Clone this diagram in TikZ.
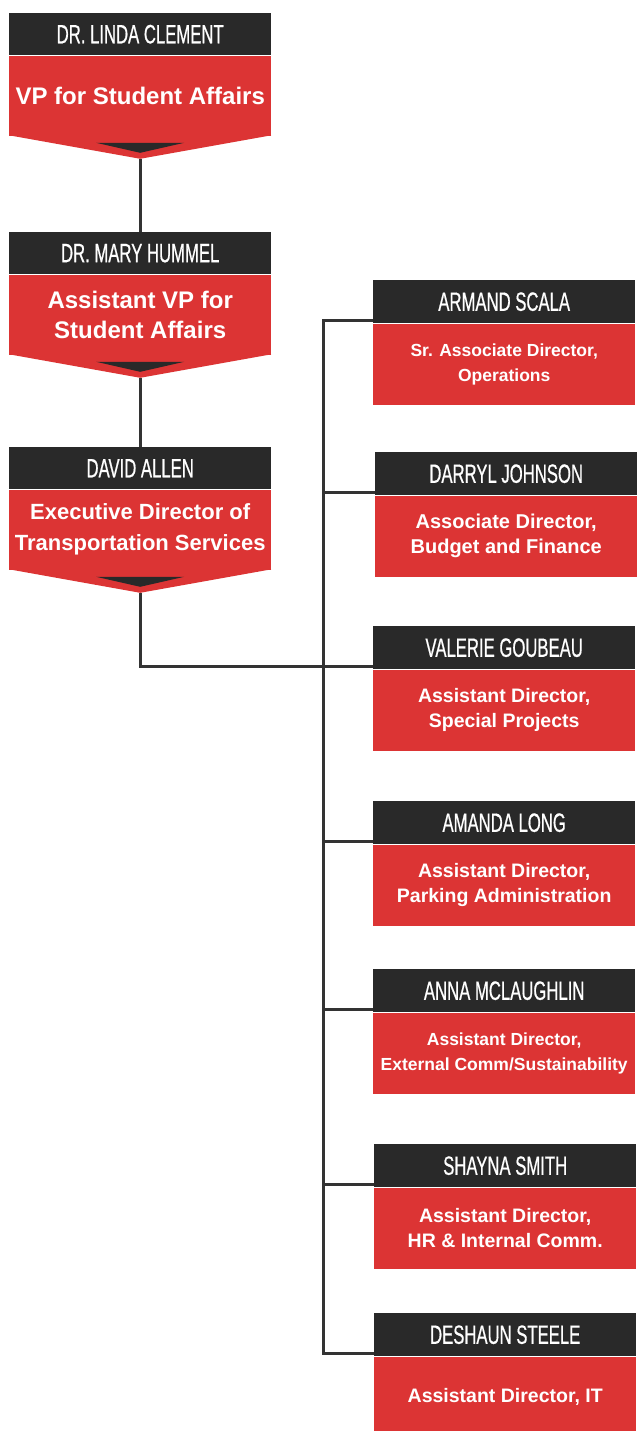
\documentclass[tikz,border=0pt]{standalone}
\usepackage{fontspec}
\setmainfont{Liberation Sans}
\newfontfamily\hdrfont[FakeStretch=0.63,FakeBold=0.6]{Liberation Sans}
\usetikzlibrary{calc}
\definecolor{bred}{HTML}{DC3434}
\definecolor{bdark}{HTML}{292929}
\definecolor{bline}{HTML}{333333}
\tikzset{
  hdr/.style={fill=bdark, text=white, inner sep=0pt, minimum width=262pt,
    font=\hdrfont\fontsize{26.5}{26.5}\selectfont, anchor=north west},
  body/.style={fill=bred, text=white, inner sep=0pt, minimum width=262pt,
    align=center, anchor=north west},
  conn/.style={draw=bline, line width=3pt}
}
% left box: name, top y, header, font size, baselineskip, body
\newcommand\lbox[6]{%
  \node[hdr, minimum height=42pt] (#1h) at (9,#2) {#3};
  \node[body, minimum height=80pt, font=\bfseries\fontsize{#4}{#5}\selectfont] (#1b) at (#1h.south west) {#6};
  \fill[bred] ([yshift=0.5pt]#1b.south west) -- ([yshift=0.5pt]#1b.south east) -- ($(#1b.south)+(0,23)$) coordinate (#1p) -- cycle;
  \fill[bdark] ($(#1b.south)+(-44,7)$) -- ($(#1b.south)+(44,7)$) -- ($(#1b.south)+(0,17)$) -- cycle;
}
% right box: name, x, y, header, font size, body
\newcommand\rbox[6]{%
  \node[hdr, minimum height=43pt] (#1h) at (#2,#3) {#4};
  \node[body, minimum height=81pt, font=\bfseries\fontsize{#5}{25}\selectfont] (#1b) at (#1h.south west) {#6};
  \coordinate (#1c) at ([yshift=2.5pt]#1h.south west);
}
\begin{document}
\begin{tikzpicture}[x=1pt,y=-1pt]
\useasboundingbox (0,0) rectangle (637,1431);
\lbox{a}{13}{DR. LINDA CLEMENT}{24}{30}{VP for Student Affairs}
\lbox{b}{232}{DR. MARY HUMMEL}{24}{30}{Assistant VP for\\Student Affairs}
\lbox{c}{447}{DAVID ALLEN}{22}{31}{Executive Director of\\Transportation Services}

\rbox{ra}{373}{280}{ARMAND SCALA}{17.5}{Sr. Associate Director,\\Operations}
\rbox{rb}{375}{452}{DARRYL JOHNSON}{20}{Associate Director,\\Budget and Finance}
\rbox{rc}{373}{626}{VALERIE GOUBEAU}{19.5}{Assistant Director,\\Special Projects}
\rbox{rd}{373}{801}{AMANDA LONG}{19.5}{Assistant Director,\\Parking Administration}
\rbox{re}{373}{969}{ANNA MCLAUGHLIN}{17.5}{Assistant Director,\\External Comm/Sustainability}
\rbox{rf}{374}{1144}{SHAYNA SMITH}{19.5}{Assistant Director,\\HR \& Internal Comm.}
\rbox{rg}{374}{1313}{DESHAUN STEELE}{19.5}{Assistant Director, IT}

\coordinate (busx) at (323,0);
\draw[conn] (ap) -- (bh.north);
\draw[conn] (bp) -- (ch.north);
\draw[conn] (cp) |- (rcc);
\draw[conn] (rac) -| (busx |- rgc) -- (rgc);
\draw[conn] (busx |- rbc) -- (rbc);
\draw[conn] (busx |- rdc) -- (rdc);
\draw[conn] (busx |- rec) -- (rec);
\draw[conn] (busx |- rfc) -- (rfc);
\end{tikzpicture}
\end{document}
